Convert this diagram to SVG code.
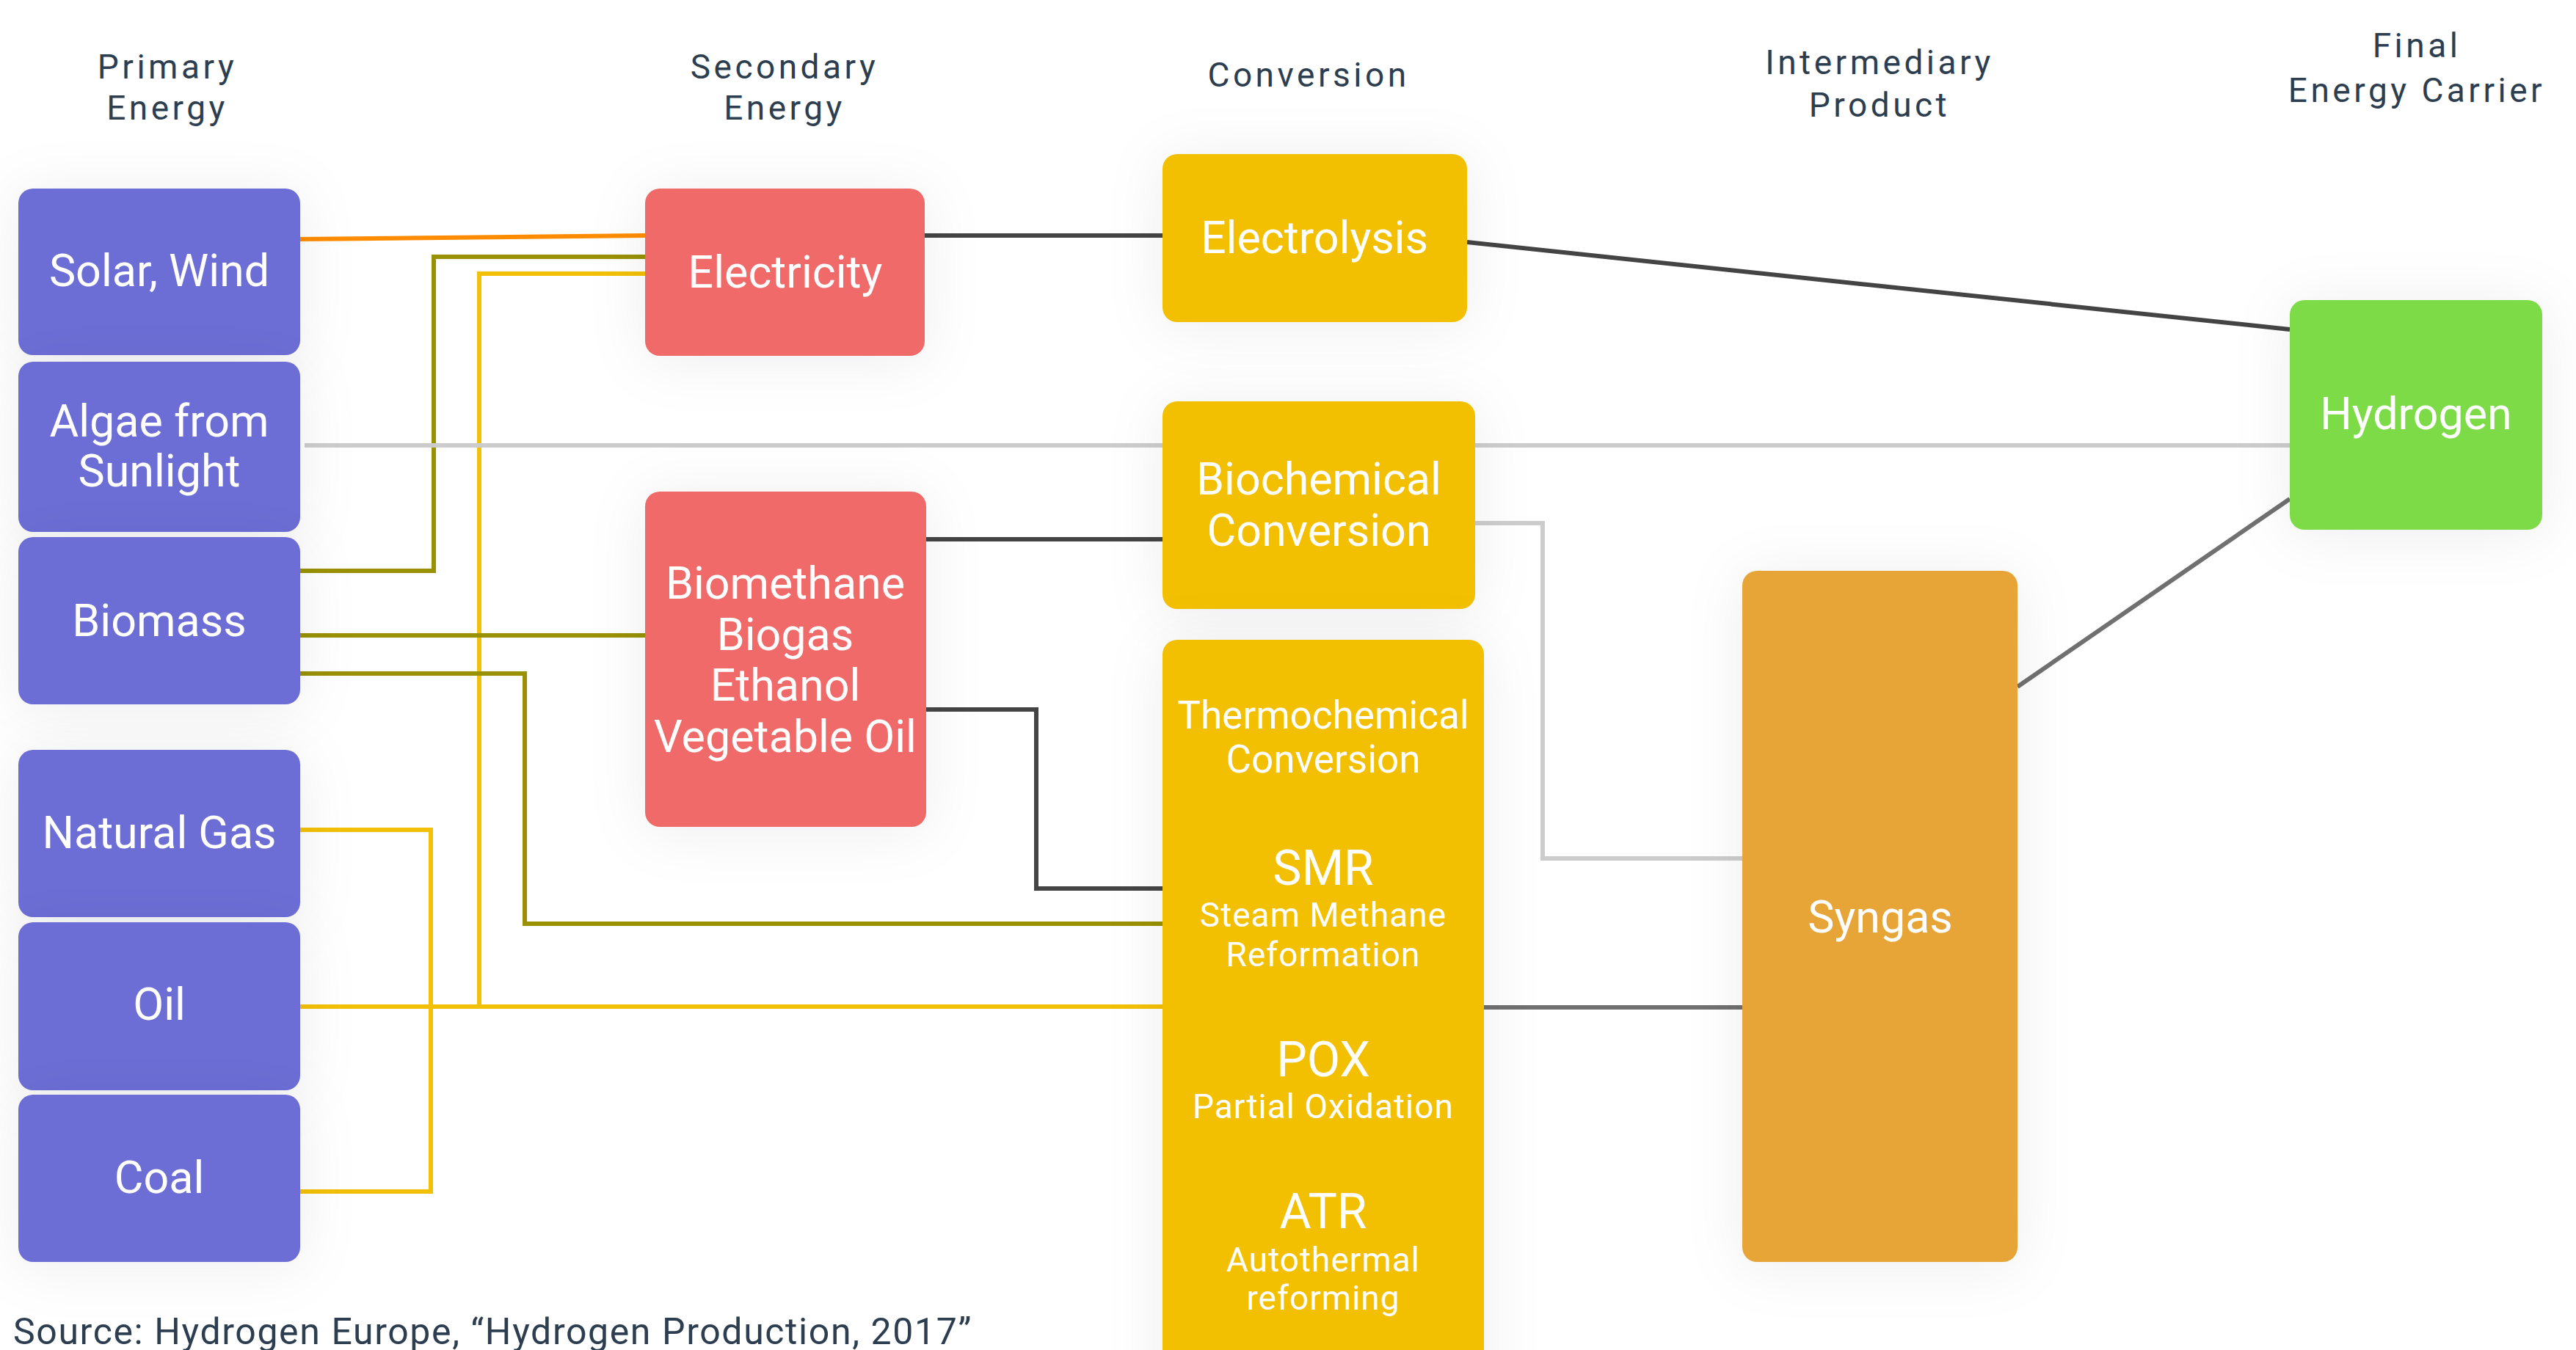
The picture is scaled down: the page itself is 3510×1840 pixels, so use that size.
<svg xmlns="http://www.w3.org/2000/svg" width="3510" height="1840" viewBox="0 0 3510 1840">
<defs>
<filter id="sh" x="-40%" y="-40%" width="180%" height="180%">
<feDropShadow dx="0" dy="6" stdDeviation="40" flood-color="#1a2030" flood-opacity="0.07"/>
</filter>
<style>
.hdr{font-family:Roboto,"Liberation Sans",sans-serif;font-size:46px;fill:#2C3E50;text-anchor:middle;letter-spacing:4.5px}
.lbl{font-family:Roboto,"Liberation Sans",sans-serif;font-size:61px;fill:#FFFFFF;text-anchor:middle}
.big{font-size:66px}
.sub{font-size:46px;letter-spacing:1px}
.mid{font-size:53px}
.src{font-family:Roboto,"Liberation Sans",sans-serif;font-size:50px;fill:#2C3E50;letter-spacing:1.6px}
.prim rect{fill:#6C6ED6}
.sec rect{fill:#F06B6A}
.conv rect{fill:#F2C006}
.inter rect{fill:#E7A537}
.fin rect{fill:#7BDB46}
.c{fill:none;stroke-width:6}
.orange{stroke:#FF8C00}
.olive{stroke:#999100}
.yel{stroke:#F2C006}
.dark{stroke:#444444}
.light{stroke:#CCCCCC}
.grey{stroke:#707070}
</style>
</defs>
<rect x="0" y="0" width="3510" height="1840" fill="#FFFFFF"/>

<g id="headers">
<text class="hdr" x="228" y="107">Primary</text>
<text class="hdr" x="228" y="163">Energy</text>
<text class="hdr" x="1069" y="107">Secondary</text>
<text class="hdr" x="1069" y="163">Energy</text>
<text class="hdr" x="1783" y="118">Conversion</text>
<text class="hdr" x="2561" y="101">Intermediary</text>
<text class="hdr" x="2561" y="159">Product</text>
<text class="hdr" x="3293" y="78">Final</text>
<text class="hdr" x="3293" y="139">Energy Carrier</text>
</g>

<g id="connectors">
<path class="c orange" d="M409,326 L879,321"/>
<path class="c olive" d="M409,778 H591 V350 H879"/>
<path class="c yel" d="M409,1372 H653 V373 H879"/>
<path class="c yel" d="M409,1372 H1584"/>
<path class="c yel" d="M409,1131 H587 V1624 H409"/>
<path class="c olive" d="M409,866 H879"/>
<path class="c olive" d="M409,918 H715 V1259 H1584"/>
<path class="c light" d="M415,607 H3120"/>
<path class="c dark" d="M1260,321 H1584"/>
<path class="c dark" d="M1999,330 L3120,449"/>
<path class="c dark" d="M1262,735 H1584"/>
<path class="c dark" d="M1262,967 H1412 V1211 H1584"/>
<path class="c light" d="M2010,713 H2102 V1170 H2374"/>
<path class="c grey" d="M2022,1373 H2374"/>
<path class="c grey" d="M2749,936 L3120,680"/>
</g>

<g id="solar-wind" class="prim">
<rect x="25" y="257" width="384" height="227" rx="20" filter="url(#sh)"/>
<text class="lbl" x="217" y="390">Solar, Wind</text>
</g>
<g id="algae" class="prim">
<rect x="25" y="493" width="384" height="232" rx="20" filter="url(#sh)"/>
<text class="lbl" x="217" y="595">Algae from</text>
<text class="lbl" x="217" y="663">Sunlight</text>
</g>
<g id="biomass" class="prim">
<rect x="25" y="732" width="384" height="228" rx="20" filter="url(#sh)"/>
<text class="lbl" x="217" y="867">Biomass</text>
</g>
<g id="natural-gas" class="prim">
<rect x="25" y="1022" width="384" height="228" rx="20" filter="url(#sh)"/>
<text class="lbl" x="217" y="1156">Natural Gas</text>
</g>
<g id="oil" class="prim">
<rect x="25" y="1257" width="384" height="229" rx="20" filter="url(#sh)"/>
<text class="lbl" x="217" y="1390">Oil</text>
</g>
<g id="coal" class="prim">
<rect x="25" y="1492" width="384" height="228" rx="20" filter="url(#sh)"/>
<text class="lbl" x="217" y="1626">Coal</text>
</g>

<g id="electricity" class="sec">
<rect x="879" y="257" width="381" height="228" rx="20" filter="url(#sh)"/>
<text class="lbl" x="1070" y="392">Electricity</text>
</g>
<g id="biofuels" class="sec">
<rect x="879" y="670" width="383" height="457" rx="20" filter="url(#sh)"/>
<text class="lbl" x="1070" y="816">Biomethane</text>
<text class="lbl" x="1070" y="886">Biogas</text>
<text class="lbl" x="1070" y="955">Ethanol</text>
<text class="lbl" x="1070" y="1025">Vegetable Oil</text>
</g>

<g id="electrolysis" class="conv">
<rect x="1584" y="210" width="415" height="229" rx="20" filter="url(#sh)"/>
<text class="lbl" x="1791" y="345">Electrolysis</text>
</g>
<g id="biochemical" class="conv">
<rect x="1584" y="547" width="426" height="283" rx="20" filter="url(#sh)"/>
<text class="lbl" x="1797" y="674">Biochemical</text>
<text class="lbl" x="1797" y="744">Conversion</text>
</g>
<g id="thermochemical" class="conv">
<rect x="1584" y="872" width="438" height="1100" rx="20" filter="url(#sh)"/>
<text class="lbl mid" x="1803" y="993">Thermochemical</text>
<text class="lbl mid" x="1803" y="1053">Conversion</text>
<text class="lbl big" x="1803" y="1206">SMR</text>
<text class="lbl sub" x="1803" y="1263">Steam Methane</text>
<text class="lbl sub" x="1803" y="1317">Reformation</text>
<text class="lbl big" x="1803" y="1467">POX</text>
<text class="lbl sub" x="1803" y="1524">Partial Oxidation</text>
<text class="lbl big" x="1803" y="1674">ATR</text>
<text class="lbl sub" x="1803" y="1733">Autothermal</text>
<text class="lbl sub" x="1803" y="1785">reforming</text>
</g>

<g id="syngas" class="inter">
<rect x="2374" y="778" width="375" height="942" rx="20" filter="url(#sh)"/>
<text class="lbl" x="2562" y="1271">Syngas</text>
</g>

<g id="hydrogen" class="fin">
<rect x="3120" y="409" width="344" height="313" rx="20" filter="url(#sh)"/>
<text class="lbl" x="3292" y="585">Hydrogen</text>
</g>

<text class="src" x="18" y="1832">Source: Hydrogen Europe, “Hydrogen Production, 2017”</text>
</svg>
